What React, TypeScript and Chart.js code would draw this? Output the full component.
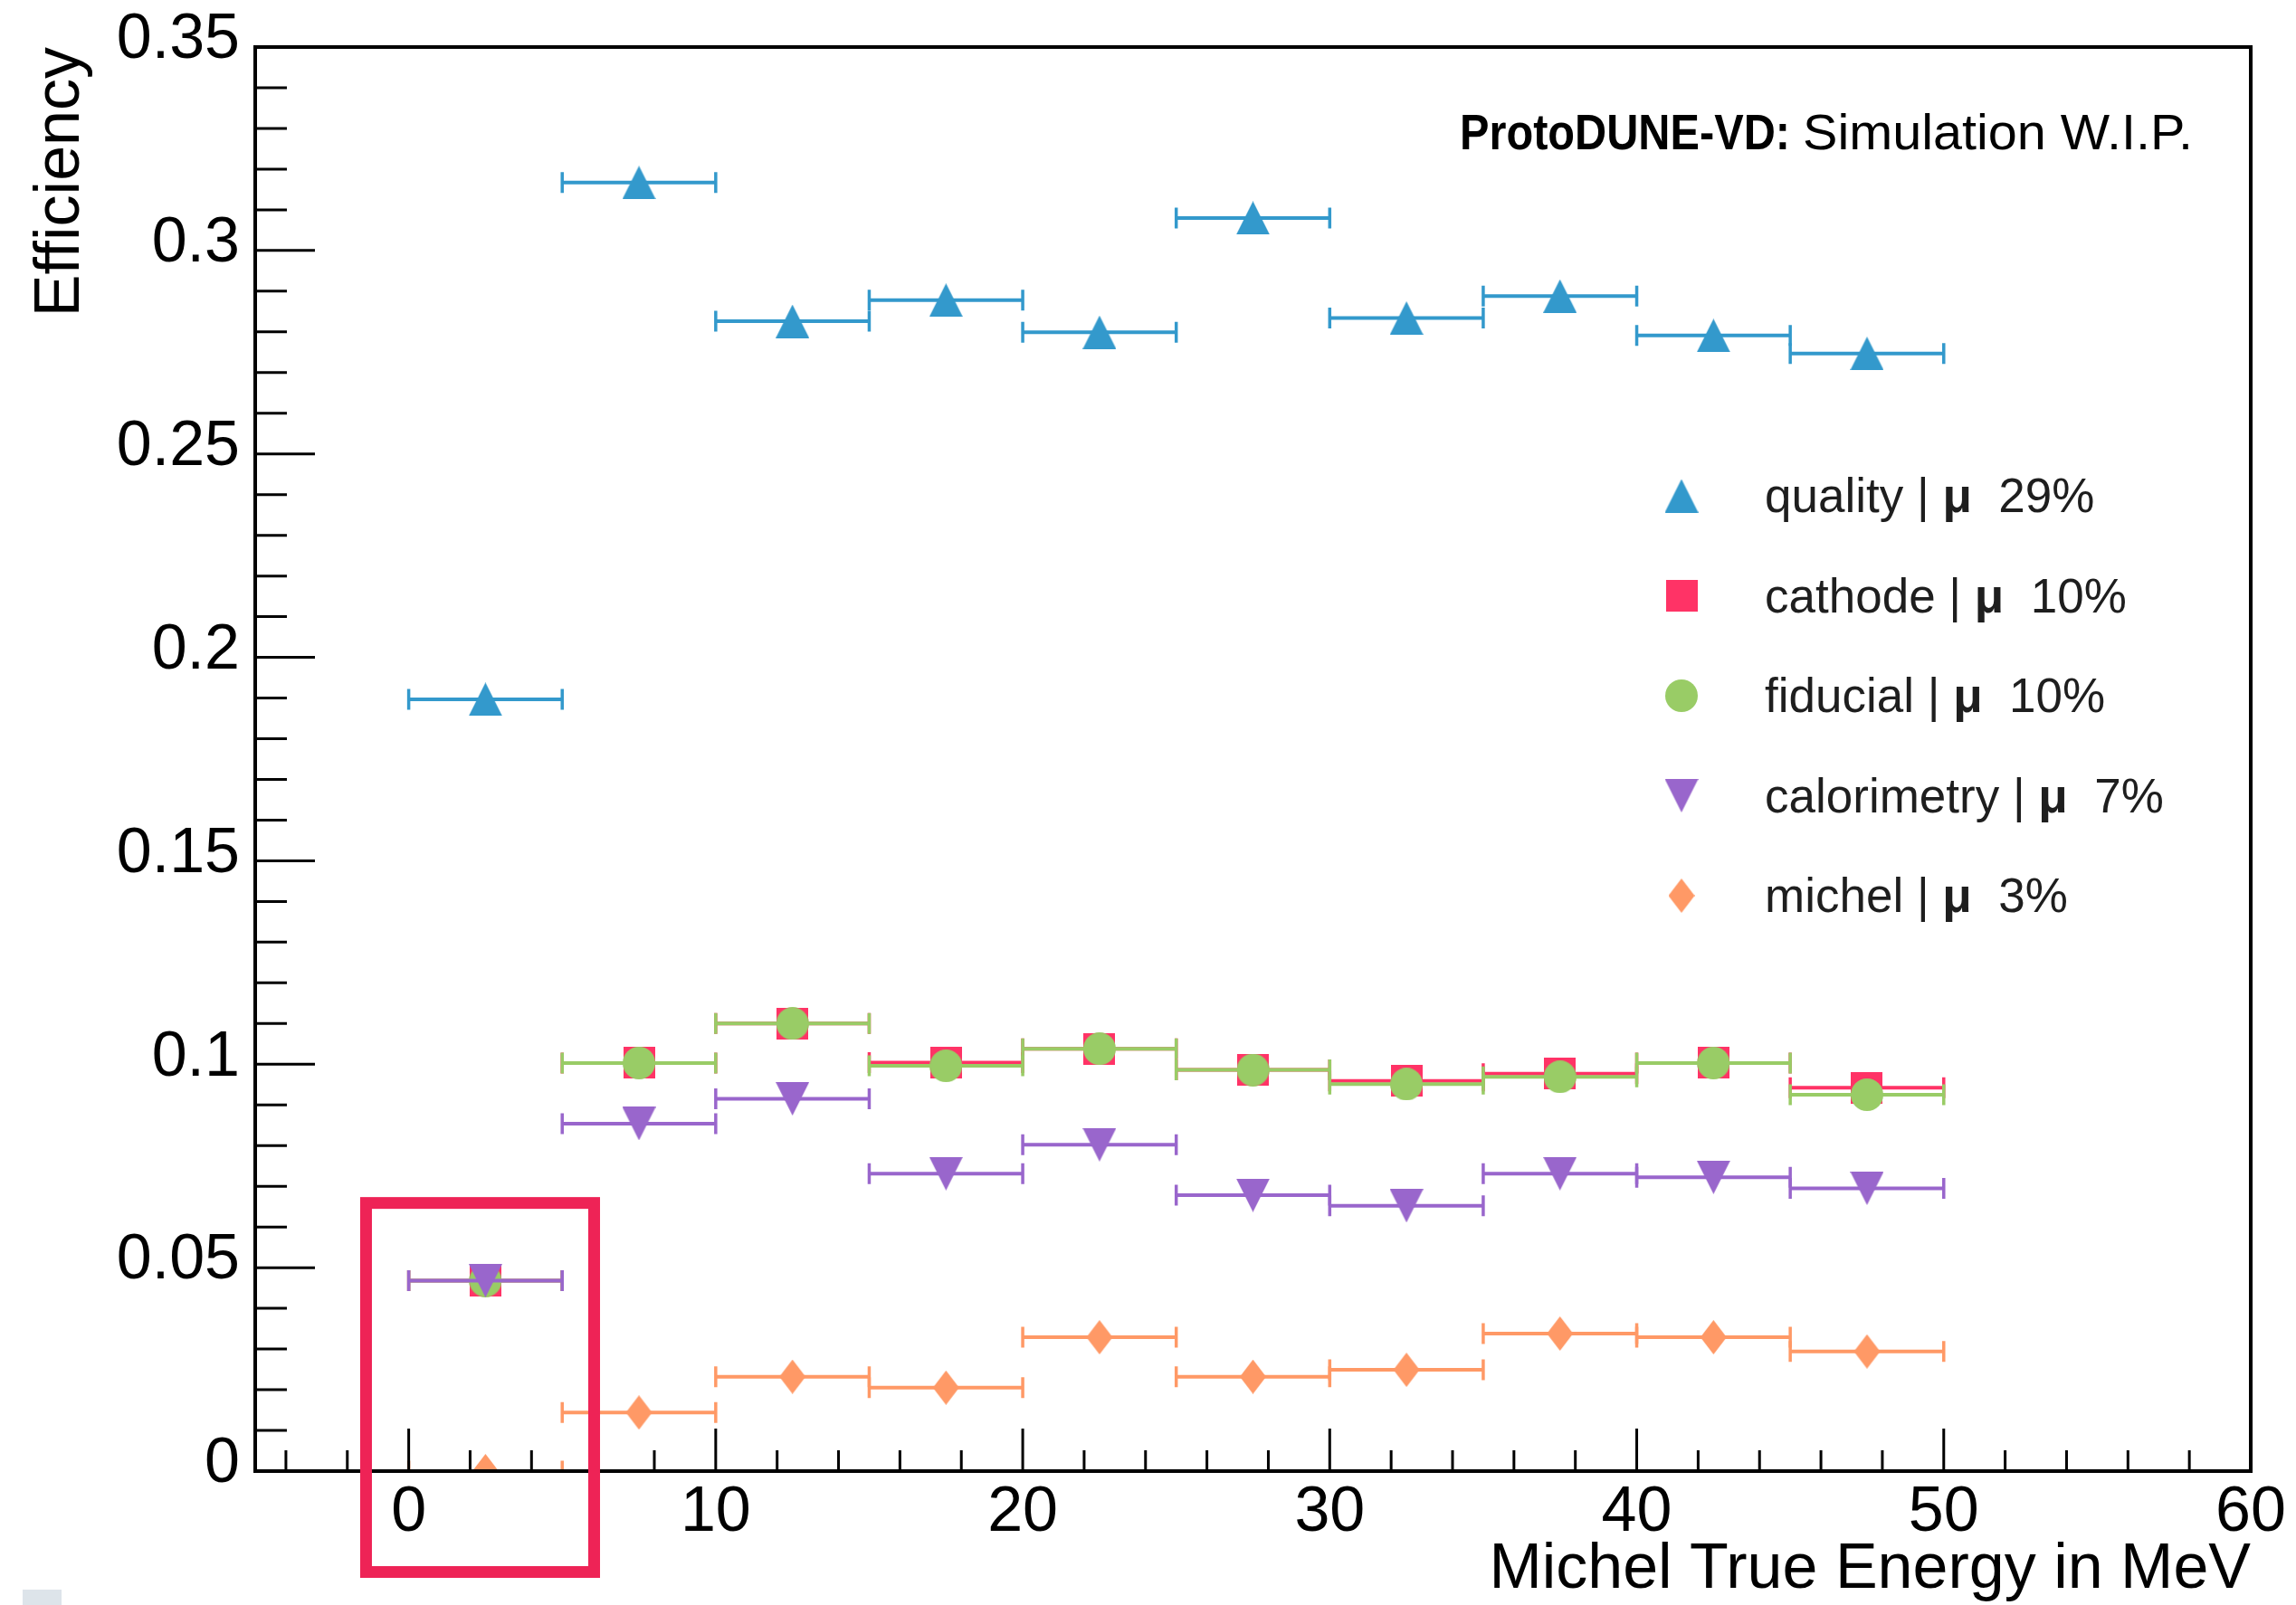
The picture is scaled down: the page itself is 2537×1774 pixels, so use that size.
import React, { useEffect, useRef } from 'react';
import { Chart, registerables } from 'chart.js';

Chart.register(...registerables);

const FAMILY = "'Liberation Sans', Helvetica, Arial, sans-serif";

// Bins of Michel true energy (MeV)
const binLow = [0, 5, 10, 15, 20, 25, 30, 35, 40, 45];
const binHigh = [5, 10, 15, 20, 25, 30, 35, 40, 45, 50];
const binCenter = [2.5, 7.5, 12.5, 17.5, 22.5, 27.5, 32.5, 37.5, 42.5, 47.5];

// Efficiency per bin for each selection
const quality = [0.1897, 0.3167, 0.2826, 0.2878, 0.2799, 0.308, 0.2834, 0.2888, 0.2791, 0.2747];
const cathode = [0.0468, 0.1003, 0.11, 0.1004, 0.1038, 0.0986, 0.0959, 0.0977, 0.1003, 0.0942];
const fiducial = [0.0468, 0.1003, 0.11, 0.0996, 0.1038, 0.0986, 0.0951, 0.0969, 0.1003, 0.0925];
const calorimetry = [0.0468, 0.0854, 0.0915, 0.0731, 0.0802, 0.0678, 0.0652, 0.0731, 0.0722, 0.0695];
const michel = [0, 0.0144, 0.0232, 0.0205, 0.0329, 0.0232, 0.0249, 0.0338, 0.0329, 0.0294];

const seriesNames = ['quality', 'cathode', 'fiducial', 'calorimetry', 'michel'];
const seriesMeans = ['29%', '10%', '10%', '7%', '3%'];
const seriesValues = [quality, cathode, fiducial, calorimetry, michel];
const seriesColors = ['#3399cc', '#ff3366', '#99cc66', '#9966cc', '#ff9966'];
const seriesShapes = ['triangle', 'square', 'circle', 'triangleDown', 'diamond'];

// Axis ticks
const xTickLabels = [0, 10, 20, 30, 40, 50, 60];
const yTickLabels = [0, 0.05, 0.1, 0.15, 0.2, 0.25, 0.3, 0.35];
const X_MIN = -5;
const X_MAX = 60;
const Y_MIN = 0;
const Y_MAX = 0.35;

const titleBold = 'ProtoDUNE-VD:';
const titleLight = 'Simulation W.I.P.';
const xTitle = 'Michel True Energy in MeV';
const yTitle = 'Efficiency';

// Highlight box (data coordinates)
const highlightBox = { xMin: -1.39, xMax: 6.04, yMin: -0.0248, yMax: 0.0659 };

function makeMarker(shape: string, color: string): HTMLCanvasElement {
  const c = document.createElement('canvas');
  let w = 36;
  let h = 36;
  if (shape === 'triangle' || shape === 'triangleDown') { w = 37; h = 37; }
  if (shape === 'square') { w = 35; h = 35; }
  if (shape === 'diamond') { w = 29; h = 38; }
  c.width = w;
  c.height = h;
  const g = c.getContext('2d')!;
  g.fillStyle = color;
  g.beginPath();
  if (shape === 'triangle') {
    g.moveTo(w / 2, 0); g.lineTo(w, h); g.lineTo(0, h);
  } else if (shape === 'triangleDown') {
    g.moveTo(0, 0); g.lineTo(w, 0); g.lineTo(w / 2, h);
  } else if (shape === 'square') {
    g.rect(0, 0, w, h);
  } else if (shape === 'circle') {
    g.arc(w / 2, h / 2, w / 2, 0, Math.PI * 2);
  } else {
    g.moveTo(w / 2, 0); g.lineTo(w, h / 2); g.lineTo(w / 2, h); g.lineTo(0, h / 2);
  }
  g.closePath();
  g.fill();
  return c;
}

export default function App() {
  const ref = useRef<HTMLCanvasElement | null>(null);

  useEffect(() => {
    if (!ref.current) return;
    const markers = seriesShapes.map((s, i) => makeMarker(s, seriesColors[i]));

    const errorBars = {
      id: 'errorBars',
      beforeDatasetDraw(chart: any, args: any) {
        const i = args.index;
        const vals = seriesValues[i];
        const { ctx, chartArea } = chart;
        const xs = chart.scales.x;
        const ys = chart.scales.y;
        ctx.save();
        ctx.beginPath();
        ctx.rect(chartArea.left, chartArea.top, chartArea.right - chartArea.left, chartArea.bottom - chartArea.top);
        ctx.clip();
        ctx.strokeStyle = seriesColors[i];
        for (let k = 0; k < vals.length; k++) {
          const x0 = xs.getPixelForValue(binLow[k]);
          const x1 = xs.getPixelForValue(binHigh[k]);
          const py = ys.getPixelForValue(vals[k]);
          ctx.lineWidth = 4;
          ctx.beginPath();
          ctx.moveTo(x0, py);
          ctx.lineTo(x1, py);
          ctx.stroke();
          ctx.lineWidth = 3.5;
          ctx.beginPath();
          ctx.moveTo(x0, py - 11.5); ctx.lineTo(x0, py + 11.5);
          ctx.moveTo(x1, py - 11.5); ctx.lineTo(x1, py + 11.5);
          ctx.stroke();
        }
        ctx.restore();
      },
    };

    const frameTicks = {
      id: 'frameTicks',
      afterDatasetsDraw(chart: any) {
        const { ctx, chartArea } = chart;
        const xs = chart.scales.x;
        const ys = chart.scales.y;
        ctx.save();
        ctx.strokeStyle = '#000';
        ctx.lineWidth = 3;
        ctx.beginPath();
        for (let i = 0; i <= 35; i++) {
          const v = i / 100;
          const py = ys.getPixelForValue(v);
          const len = i % 5 === 0 ? 66 : 35;
          ctx.moveTo(chartArea.left, py);
          ctx.lineTo(chartArea.left + len, py);
        }
        for (let v = -4; v <= 60; v += 2) {
          const px = xs.getPixelForValue(v);
          const len = v % 10 === 0 ? 47 : 23;
          ctx.moveTo(px, chartArea.bottom);
          ctx.lineTo(px, chartArea.bottom - len);
        }
        ctx.stroke();
        ctx.lineWidth = 4;
        ctx.strokeRect(chartArea.left, chartArea.top, chartArea.right - chartArea.left, chartArea.bottom - chartArea.top);
        ctx.restore();
      },
    };

    const overlay = {
      id: 'overlay',
      afterDraw(chart: any) {
        const { ctx } = chart;
        const xs = chart.scales.x;
        const ys = chart.scales.y;
        ctx.save();
        // Header text
        ctx.fillStyle = '#000';
        ctx.textBaseline = 'alphabetic';
        ctx.textAlign = 'left';
        ctx.font = `bold 55px ${FAMILY}`;
        const wb = ctx.measureText(titleBold).width;
        ctx.save();
        ctx.translate(1613, 165);
        ctx.scale(365 / wb, 1);
        ctx.fillText(titleBold, 0, 0);
        ctx.restore();
        ctx.font = `56px ${FAMILY}`;
        const wl = ctx.measureText(titleLight).width;
        ctx.save();
        ctx.translate(1992, 165);
        ctx.scale(431 / wl, 1);
        ctx.fillText(titleLight, 0, 0);
        ctx.restore();

        // Legend
        ctx.fillStyle = '#1e1e1e';
        for (let i = 0; i < seriesNames.length; i++) {
          const cy = 548 + i * 110.5;
          const m = markers[i];
          ctx.drawImage(m, 1858 - m.width / 2, cy - m.height / 2);
          let tx = 1950;
          const by = cy + 18;
          const p1 = `${seriesNames[i]} | `;
          ctx.font = `53px ${FAMILY}`;
          ctx.fillText(p1, tx, by);
          tx += ctx.measureText(p1).width;
          ctx.font = `bold 53px ${FAMILY}`;
          ctx.fillText('\u03bc', tx, by);
          tx += ctx.measureText('\u03bc').width;
          ctx.font = `53px ${FAMILY}`;
          ctx.fillText(`  ${seriesMeans[i]}`, tx, by);
        }

        // Highlight box
        ctx.strokeStyle = '#ee2356';
        ctx.lineWidth = 13;
        const bx0 = xs.getPixelForValue(highlightBox.xMin);
        const bx1 = xs.getPixelForValue(highlightBox.xMax);
        const by0 = ys.getPixelForValue(highlightBox.yMax);
        const by1 = ys.getPixelForValue(highlightBox.yMin);
        ctx.strokeRect(bx0, by0, bx1 - bx0, by1 - by0);

        // small grey fragment bottom-left
        ctx.fillStyle = '#dde4ea';
        ctx.fillRect(25, 1757, 43, 17);
        ctx.restore();
      },
    };

    const datasets = seriesNames.map((name, i) => ({
      label: name,
      data: binCenter.map((x, k) => ({ x, y: seriesValues[i][k] })),
      pointStyle: markers[i],
      pointRadius: 18,
      pointHoverRadius: 18,
      borderWidth: 0,
      backgroundColor: seriesColors[i],
      borderColor: seriesColors[i],
      showLine: false,
      clip: 0,
      order: seriesNames.length - i,
    }));

    const chart = new Chart(ref.current, {
      type: 'scatter',
      data: { datasets },
      options: {
        animation: false,
        responsive: false,
        devicePixelRatio: 1,
        events: [],
        layout: { autoPadding: false, padding: { top: 52, right: 50, left: 0, bottom: 0 } },
        plugins: {
          legend: { display: false },
          tooltip: { enabled: false },
          title: { display: false },
        },
        scales: {
          x: {
            type: 'linear',
            position: 'bottom',
            min: X_MIN,
            max: X_MAX,
            afterBuildTicks: (s: any) => { s.ticks = xTickLabels.map((v) => ({ value: v })); },
            afterFit: (s: any) => { s.height = 148; },
            grid: { display: false, drawTicks: false },
            border: { display: false },
            ticks: {
              font: { family: FAMILY, size: 70 },
              color: '#000',
              padding: 5,
              maxRotation: 0,
              autoSkip: false,
              callback: (v: any) => String(v),
            },
            title: {
              display: true,
              text: xTitle,
              align: 'end',
              color: '#000',
              font: { family: FAMILY, size: 70, lineHeight: 1.08 },
              padding: 0,
            },
          },
          y: {
            type: 'linear',
            min: Y_MIN,
            max: Y_MAX,
            afterBuildTicks: (s: any) => { s.ticks = yTickLabels.map((v) => ({ value: v })); },
            afterFit: (s: any) => { s.width = 282; s.paddingTop = 0; s.paddingBottom = 0; },
            grid: { display: false, drawTicks: false },
            border: { display: false },
            ticks: {
              font: { family: FAMILY, size: 70, lineHeight: 1.0 },
              color: '#000',
              padding: 17,
              labelOffset: -7,
              autoSkip: false,
              callback: (v: any) => String(v),
            },
            title: {
              display: true,
              text: yTitle,
              align: 'end',
              color: '#000',
              font: { family: FAMILY, size: 70 },
              padding: { top: 26, bottom: 0 },
            },
          },
        },
      },
      plugins: [errorBars, frameTicks, overlay],
    } as any);

    return () => chart.destroy();
  }, []);

  return (
    <div style={{ position: 'fixed', left: 0, top: 0, width: 2537, height: 1774, background: '#fff' }}>
      <canvas ref={ref} width={2537} height={1774} style={{ display: 'block' }} />
    </div>
  );
}
